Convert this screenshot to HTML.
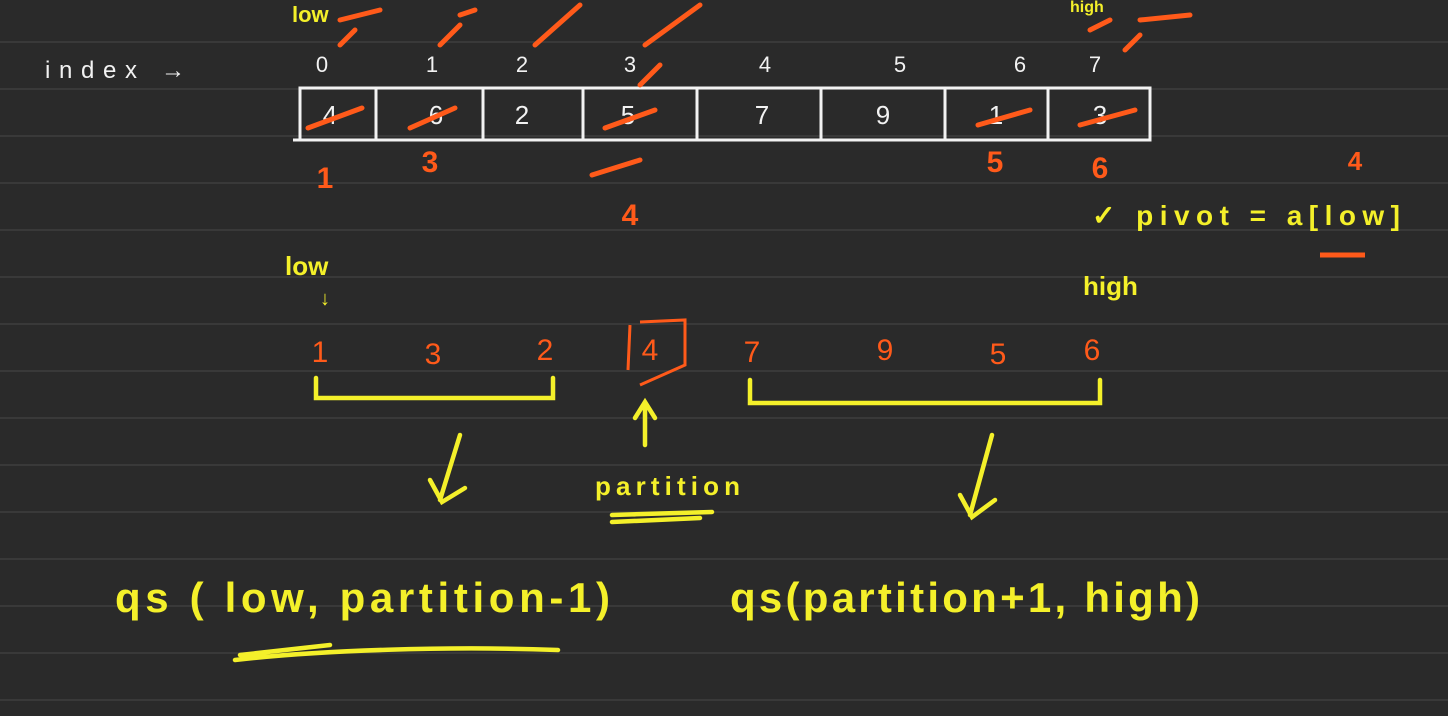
<!DOCTYPE html>
<html><head><meta charset="utf-8"><style>
html,body{margin:0;padding:0;background:#2a2a2a;}
svg{display:block}
text{font-family:"Liberation Sans",sans-serif;}
.w{fill:#f2f2f2}.o{fill:#ff5a1a}.y{fill:#f4f02a}
</style></head><body>
<svg width="1448" height="716" viewBox="0 0 1448 716">
<rect width="1448" height="716" fill="#2a2a2a"/>
<g stroke="#3e3e3e" stroke-width="1.5">
<line x1="0" y1="42" x2="1448" y2="42"/><line x1="0" y1="89" x2="1448" y2="89"/><line x1="0" y1="136" x2="1448" y2="136"/>
<line x1="0" y1="183" x2="1448" y2="183"/><line x1="0" y1="230" x2="1448" y2="230"/><line x1="0" y1="277" x2="1448" y2="277"/>
<line x1="0" y1="324" x2="1448" y2="324"/><line x1="0" y1="371" x2="1448" y2="371"/><line x1="0" y1="418" x2="1448" y2="418"/>
<line x1="0" y1="465" x2="1448" y2="465"/><line x1="0" y1="512" x2="1448" y2="512"/><line x1="0" y1="559" x2="1448" y2="559"/>
<line x1="0" y1="606" x2="1448" y2="606"/><line x1="0" y1="653" x2="1448" y2="653"/><line x1="0" y1="700" x2="1448" y2="700"/>
</g>
<text x="45" y="78" class="w" font-size="24" textLength="140">index →</text>
<g class="w" font-size="22" text-anchor="middle">
<text x="322" y="72">0</text><text x="432" y="72">1</text><text x="522" y="72">2</text><text x="630" y="72">3</text>
<text x="765" y="72">4</text><text x="900" y="72">5</text><text x="1020" y="72">6</text><text x="1095" y="72">7</text>
</g>
<text x="292" y="22" class="y" font-size="22" font-weight="bold">low</text>
<text x="1070" y="12" class="y" font-size="16" font-weight="bold">high</text>
<g stroke="#f2f2f2" stroke-width="3" fill="none">
<path d="M300 88 L1150 88 L1150 140 L300 140 Z"/>
<path d="M293 140 L1150 140"/>
<path d="M376 88V140M483 88V140M583 88V140M697 88V140M821 88V140M945 88V140M1048 88V140"/>
</g>
<g class="w" font-size="26" text-anchor="middle">
<text x="330" y="124">4</text><text x="436" y="124">6</text><text x="522" y="124">2</text><text x="628" y="124">5</text>
<text x="762" y="124">7</text><text x="883" y="124">9</text><text x="996" y="124">1</text><text x="1100" y="124">3</text>
</g>
<g stroke="#ff5a1a" stroke-width="5" stroke-linecap="round" fill="none">
<path d="M308 128 L362 108M410 128 L455 108M605 128 L655 110M978 125L1030 110M1080 125L1135 110"/>
<path d="M340 20 L380 10M340 45 L355 30M440 45 L460 25M535 45 L580 5M645 45 L700 5M640 85 L660 65M460 15 L475 10M1125 50 L1140 35M1140 20 L1190 15M592 175 L640 160M1090 30L1110 20"/>
</g>
<g class="o" font-size="30" font-weight="bold" text-anchor="middle">
<text x="325" y="188">1</text><text x="430" y="172">3</text><text x="630" y="225">4</text><text x="995" y="172">5</text><text x="1100" y="178">6</text>
<text x="1355" y="170" font-size="26">4</text>
</g>
<text x="1092" y="225" class="y" font-size="28" font-weight="bold" textLength="308">✓ pivot = a[low]</text>
<path d="M1320 255 L1365 255" stroke="#ff5a1a" stroke-width="5"/>
<text x="285" y="275" class="y" font-size="26" font-weight="bold">low</text>
<text x="325" y="305" class="y" font-size="20" text-anchor="middle">↓</text>
<text x="1083" y="295" class="y" font-size="26" font-weight="bold">high</text>
<g class="o" font-size="30" text-anchor="middle">
<text x="320" y="362">1</text><text x="433" y="364">3</text><text x="545" y="360">2</text><text x="650" y="360">4</text>
<text x="752" y="362">7</text><text x="885" y="360">9</text><text x="998" y="364">5</text><text x="1092" y="360">6</text>
</g>
<path d="M630 325 L628 370 M640 322 L685 320 L685 365 L640 385" stroke="#ff5a1a" stroke-width="3" fill="none"/>
<g stroke="#f4f02a" stroke-width="4.5" fill="none" stroke-linecap="round">
<path d="M316 378 V398 H553 V378"/>
<path d="M750 380 V403 H1100 V380"/>
<path d="M645 445 V405 M635 418 L645 402 L655 418"/>
<path d="M460 435 L440 500 M430 480 L442 502 L465 488"/>
<path d="M992 435 L970 515 M960 495 L972 517 L995 500"/>
<path d="M612 515 L712 512 M612 522 L700 518"/>
<path d="M235 660 C 320 650 450 646 558 650 M240 655 L330 645"/>
</g>
<text x="595" y="495" class="y" font-size="26" font-weight="bold" textLength="145">partition</text>
<text x="115" y="612" class="y" font-size="42" font-weight="bold" textLength="495">qs ( low, partition-1)</text>
<text x="730" y="612" class="y" font-size="42" font-weight="bold" textLength="470">qs(partition+1, high)</text>
</svg>
</body></html>
